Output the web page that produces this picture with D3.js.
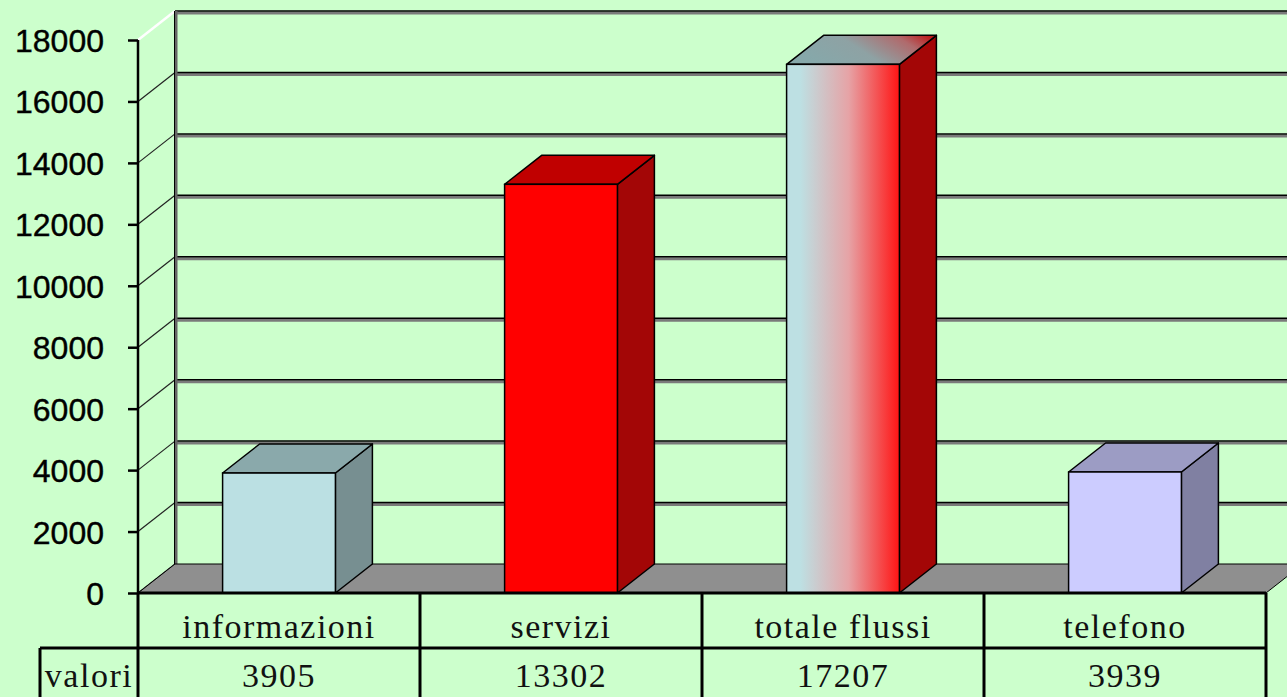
<!DOCTYPE html>
<html>
<head>
<meta charset="utf-8">
<script src="https://cdn.jsdelivr.net/npm/d3@7"></script>
<style>
  html, body { margin: 0; padding: 0; background: #ccffcc; overflow: hidden; }
  svg { display: block; }
  .ylab text { font-family: Arial, "Liberation Sans", sans-serif; font-size: 32px; fill: #000; stroke: #000; stroke-width: 0.4px; }
  .cell { font-family: "Liberation Serif", "Times New Roman", serif; font-size: 34px; fill: #111; letter-spacing: 1.5px; }
</style>
</head>
<body>
<svg width="1287" height="697"></svg>
<script>
const categories = ["informazioni", "servizi", "totale flussi", "telefono"];
const values = [3905, 13302, 17207, 3939];
const yTicks = [0, 2000, 4000, 6000, 8000, 10000, 12000, 14000, 16000, 18000];
const rowLabel = "valori";

const frontColors = ["#bbe0e3", "#ff0000", "url(#gradFront)", "#ccccff"];
const topColors = ["#8aa9ab", "#c00000", "url(#gradTop)", "#9c9cc4"];
const sideColors = ["#778f91", "#a30606", "#a30606", "#8080a2"];

const svg = d3.select("svg");
const width = +svg.attr("width");
const height = +svg.attr("height");

const plotLeft = 138, plotRight = 1266, plotBottom = 593, plotTop = 40;
const dx = 37, dy = -29;   // depth offset of the 3d box

const x = d3.scaleBand().domain(categories).range([plotLeft, plotRight]).paddingInner(0.6).paddingOuter(0.3);
const y = d3.scaleLinear().domain([0, 18000]).range([plotBottom, plotTop]);

// gradients for the "totale flussi" bar
const defs = svg.append("defs");
const gf = defs.append("linearGradient").attr("id", "gradFront").attr("x1", 0).attr("x2", 1).attr("y1", 0).attr("y2", 0);
gf.append("stop").attr("offset", 0).attr("stop-color", "#bde0e3");
gf.append("stop").attr("offset", 0.12).attr("stop-color", "#bde0e3");
gf.append("stop").attr("offset", 0.55).attr("stop-color", "#e6a3a6");
gf.append("stop").attr("offset", 1).attr("stop-color", "#ff1414");
const gt = defs.append("linearGradient").attr("id", "gradTop").attr("x1", 0).attr("x2", 1).attr("y1", 0.3).attr("y2", 0);
gt.append("stop").attr("offset", 0).attr("stop-color", "#86a8aa");
gt.append("stop").attr("offset", 0.4).attr("stop-color", "#8ea2a4");
gt.append("stop").attr("offset", 0.75).attr("stop-color", "#b06a6c");
gt.append("stop").attr("offset", 1).attr("stop-color", "#c00808");

// back wall gridlines
const grid = svg.append("g");
yTicks.forEach(t => {
  const yy = y(t) + dy;
  if (t > 0) {
    grid.append("line").attr("x1", plotLeft + dx).attr("x2", width).attr("y1", yy + 2).attr("y2", yy + 2)
      .attr("stroke", "#7a7a7a").attr("stroke-width", 3);
    grid.append("line").attr("x1", plotLeft + dx).attr("x2", width).attr("y1", yy).attr("y2", yy)
      .attr("stroke", "#000").attr("stroke-width", 1.5);
  }
  // slanted line on the side wall
  grid.append("line").attr("x1", plotLeft).attr("y1", y(t)).attr("x2", plotLeft + dx).attr("y2", yy)
    .attr("stroke", t === 18000 ? "#ffffff" : "#222").attr("stroke-width", t === 18000 ? 2.5 : 1.2);
});
// back wall left edge
grid.append("line").attr("x1", plotLeft + dx + 1).attr("x2", plotLeft + dx + 1).attr("y1", y(18000) + dy).attr("y2", plotBottom + dy)
  .attr("stroke", "#666").attr("stroke-width", 3);
grid.append("line").attr("x1", plotLeft + dx - 0.5).attr("x2", plotLeft + dx - 0.5).attr("y1", y(18000) + dy).attr("y2", plotBottom + dy)
  .attr("stroke", "#000").attr("stroke-width", 1);

// floor
svg.append("path")
  .attr("d", `M${plotLeft},${plotBottom}L${plotRight},${plotBottom}L${plotRight + dx},${plotBottom + dy}L${plotLeft + dx},${plotBottom + dy}Z`)
  .attr("fill", "#8f8f8f").attr("stroke", "#000").attr("stroke-width", 1);
svg.append("line").attr("x1", plotRight + dx).attr("x2", width).attr("y1", plotBottom + dy).attr("y2", plotBottom + dy)
  .attr("stroke", "#000").attr("stroke-width", 1.5);

// bars
const bars = svg.append("g").selectAll("g").data(categories).join("g");
bars.each(function (c, i) {
  const g = d3.select(this);
  const x0 = x(c), x1 = x(c) + x.bandwidth();
  const y0 = y(values[i]), yb = y(0);
  g.append("path")
    .attr("d", `M${x1},${yb}L${x1 + dx},${yb + dy}L${x1 + dx},${y0 + dy}L${x1},${y0}Z`)
    .attr("fill", sideColors[i]).attr("stroke", "#000").attr("stroke-width", 1.5).attr("stroke-linejoin", "round");
  g.append("path")
    .attr("d", `M${x0},${y0}L${x1},${y0}L${x1 + dx},${y0 + dy}L${x0 + dx},${y0 + dy}Z`)
    .attr("fill", topColors[i]).attr("stroke", "#000").attr("stroke-width", 1.5).attr("stroke-linejoin", "round");
  g.append("rect")
    .attr("x", x0).attr("y", y0).attr("width", x1 - x0).attr("height", yb - y0)
    .attr("fill", frontColors[i]).attr("stroke", "#000").attr("stroke-width", 1.5);
});

// y axis
const yAxis = d3.axisLeft(y).tickValues(yTicks).tickSize(10).tickPadding(24).tickFormat(d3.format("d"));
const ax = svg.append("g").attr("class", "ylab").attr("transform", `translate(${plotLeft},0)`).call(yAxis);
ax.select(".domain").attr("stroke", "#000").attr("stroke-width", 2.5).attr("d", `M0,${plotTop}V${plotBottom}`);
ax.selectAll(".tick line").attr("stroke", "#000").attr("stroke-width", 2.5);
ax.selectAll(".tick text").attr("dy", "0.36em");

// data table
const row1 = plotBottom, row2 = 648, row3 = height + 5;
const table = svg.append("g");
const edges = categories.map(c => x(c) - x.step() * x.paddingInner() / 2).concat([plotRight]);
table.append("line").attr("x1", plotLeft).attr("x2", plotRight).attr("y1", row1).attr("y2", row1)
  .attr("stroke", "#000").attr("stroke-width", 3);
table.append("line").attr("x1", 40).attr("x2", plotRight).attr("y1", row2).attr("y2", row2)
  .attr("stroke", "#000").attr("stroke-width", 3);
edges.forEach(e => {
  table.append("line").attr("x1", e).attr("x2", e).attr("y1", row1).attr("y2", row3)
    .attr("stroke", "#000").attr("stroke-width", 3);
});
table.append("line").attr("x1", 40).attr("x2", 40).attr("y1", row2).attr("y2", row3)
  .attr("stroke", "#000").attr("stroke-width", 3);

categories.forEach((c, i) => {
  const cx = x(c) + x.bandwidth() / 2;
  table.append("text").attr("class", "cell").attr("x", cx).attr("y", 638)
    .attr("text-anchor", "middle").text(c);
  table.append("text").attr("class", "cell").attr("x", cx).attr("y", 687)
    .attr("text-anchor", "middle").text(values[i]);
});
table.append("text").attr("class", "cell").attr("x", 89).attr("y", 687)
  .attr("text-anchor", "middle").text(rowLabel);
</script>
</body>
</html>
